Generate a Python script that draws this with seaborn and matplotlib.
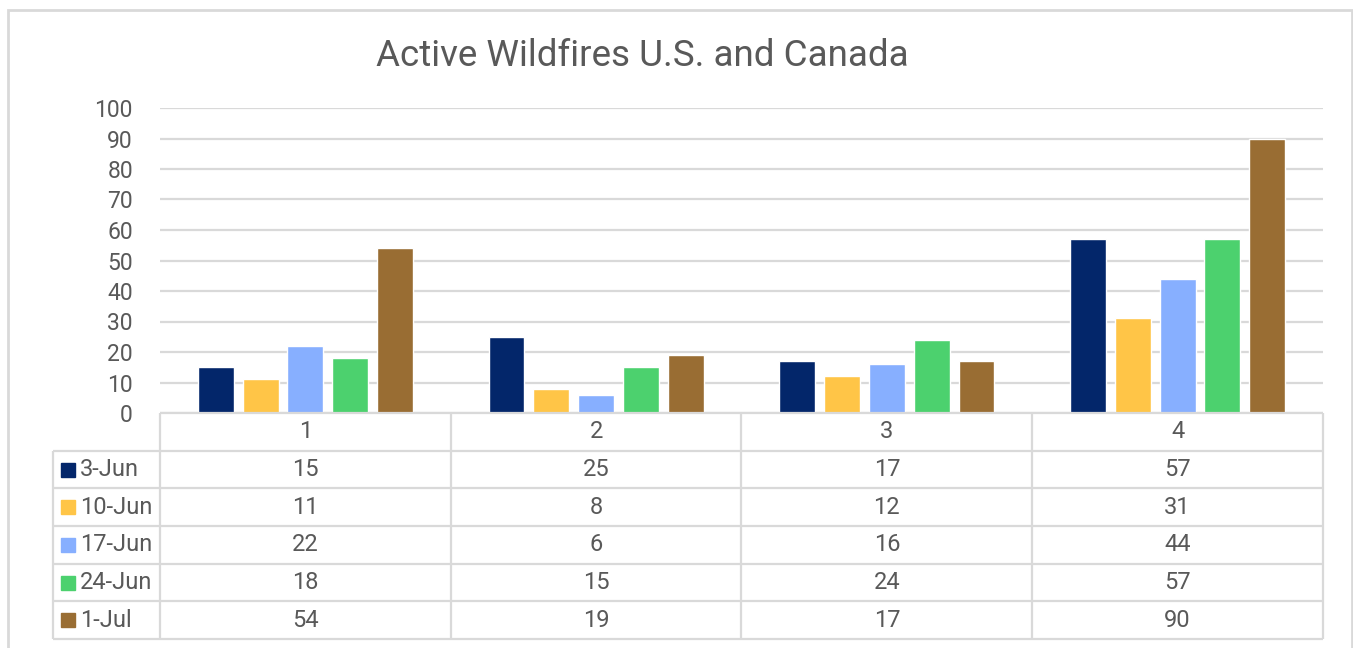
import matplotlib
matplotlib.use("Agg")
import pandas as pd
import matplotlib.pyplot as plt
import seaborn as sns
from matplotlib.patches import Rectangle

# Data
groups = ["1", "2", "3", "4"]
weeks = ["3-Jun", "10-Jun", "17-Jun", "24-Jun", "1-Jul"]
jun3 = [15, 25, 17, 57]
jun10 = [11, 8, 12, 31]
jun17 = [22, 6, 16, 44]
jun24 = [18, 15, 24, 57]
jul1 = [54, 19, 17, 90]
colors = ["#03266A", "#FFC547", "#87AFFF", "#4CD16E", "#996D33"]

series = [jun3, jun10, jun17, jun24, jul1]
fires = pd.DataFrame({
    "group": groups * len(weeks),
    "week": [w for w in weeks for _ in groups],
    "fires": [v for s in series for v in s],
})

sns.set_style("white")
plt.rcParams["font.family"] = ["Roboto", "DejaVu Sans"]
text_col = "#595959"
line_col = "#D9D9D9"

W, H = 1353, 648
fig = plt.figure(figsize=(W / 100, H / 100), dpi=100)

# outer chart border
fig.patches.append(Rectangle((8 / W, -0.05), (W - 9) / W, (H - 10) / H + 0.05,
                             transform=fig.transFigure, fill=False,
                             edgecolor=line_col, lw=2))

# bar area
ax = fig.add_axes([160 / W, (H - 413) / H, 1163 / W, 305 / H])
sns.barplot(data=fires, x="group", y="fires", hue="week", hue_order=weeks,
            order=groups, palette=colors, saturation=1, width=0.77, gap=0.2,
            legend=False, ax=ax)
ax.set_xlim(-0.5, 3.5)
ax.set_ylim(0, 100)
ax.set_yticks(range(0, 101, 10))
ax.set_xticks([])
ax.set_xlabel("")
ax.set_ylabel("")
ax.grid(axis="y", color=line_col, lw=1.6)
ax.set_axisbelow(True)
for s in ax.spines.values():
    s.set_visible(False)
ax.tick_params(axis="y", left=False, labelsize=16.5, labelcolor=text_col, pad=16)

fig.text(642 / W, 1 - 56 / H, "Active Wildfires U.S. and Canada",
         fontsize=26.5, color=text_col, ha="center", va="center")

# data table under the bars
tx = fig.add_axes([53 / W, (H - 639) / H, 1270 / W, 226 / H])
left = -0.5 - 107 / 291
tx.set_xlim(left, 3.5)
tx.set_ylim(len(weeks) + 1, 0)
tx.axis("off")

tx.hlines(0, -0.5, 3.5, color=line_col, lw=1.6, clip_on=False)
for r in range(1, len(weeks) + 2):
    tx.hlines(r, left, 3.5, color=line_col, lw=1.6, clip_on=False)
tx.vlines(left, 1, len(weeks) + 1, color=line_col, lw=1.6, clip_on=False)
for c in range(len(groups) + 1):
    tx.vlines(c - 0.5, 0, len(weeks) + 1, color=line_col, lw=1.6, clip_on=False)

for c, g in enumerate(groups):
    tx.text(c, 0.5, g, ha="center", va="center", fontsize=17, color=text_col)

for r, (w, s, col) in enumerate(zip(weeks, series, colors)):
    y = r + 1.5
    tx.plot(left + 15.5 / 291, y, marker="s", ms=9.5, color=col, clip_on=False)
    tx.text(left + 27 / 291, y, w, ha="left", va="center", fontsize=17,
            color=text_col)
    for c, v in enumerate(s):
        tx.text(c, y, str(v), ha="center", va="center", fontsize=17,
                color=text_col)

fig.savefig("out.png", dpi=100)
